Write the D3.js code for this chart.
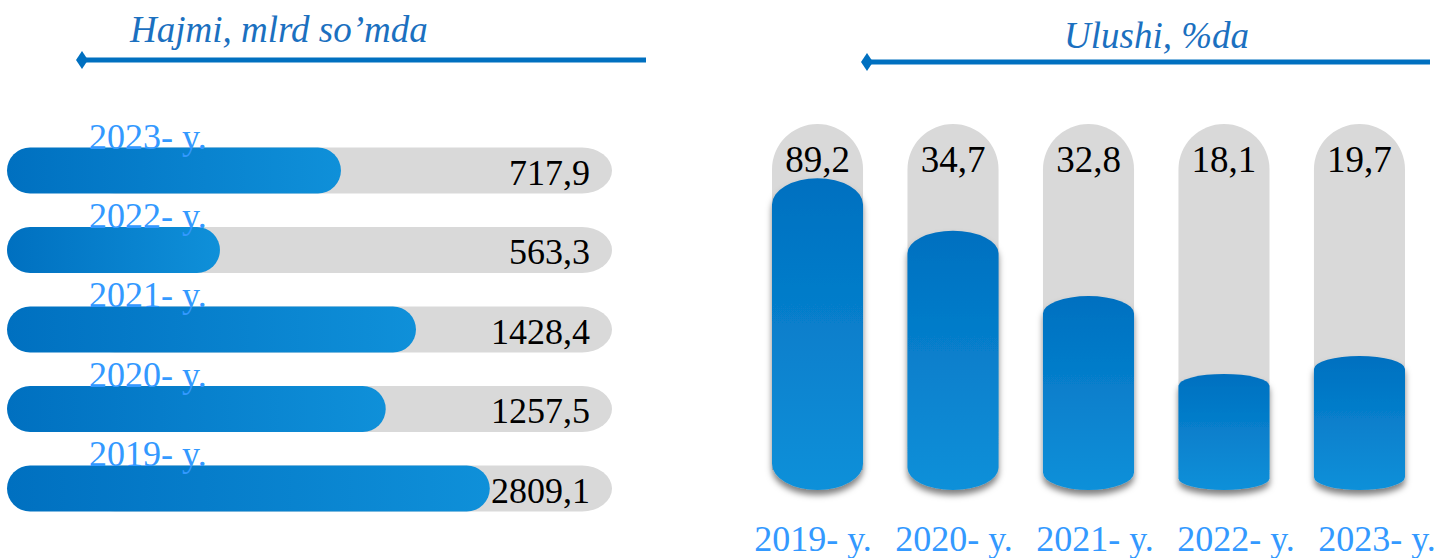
<!DOCTYPE html>
<html lang="uz">
<head>
    <meta charset="UTF-8">
    <script src="https://d3js.org/d3.v7.min.js"></script>
    <style>
        body { margin: 0; background: #fff; }
        svg { display: block; font-family: "Liberation Serif", "Times New Roman", serif; }
    </style>
</head>
<body>
<div id="chart_area"></div>

<script>
    // years, shown top-to-bottom on the left as 2023..2019, left-to-right on the right
    var years = ["2019", "2020", "2021", "2022", "2023"];
    // Hajmi, mlrd so'mda
    var volume = [2809.1, 1257.5, 1428.4, 563.3, 717.9];
    // Ulushi, %da
    var share = [89.2, 34.7, 32.8, 18.1, 19.7];
    // how far the blue fill reaches along its grey track (percent)
    var volumeFill = [79.8, 62.6, 67.6, 35.2, 55.2];
    var shareFill = [85.2, 70.8, 53.0, 31.7, 36.6];

    var width = 1453, height = 558;
    var blueDark = "#0070c0", blueLight = "#0f90d9", yearBlue = "#3399ff", grey = "#d9d9d9";

    var fmt = d3.formatLocale({ decimal: ",", thousands: "", grouping: [3], currency: ["", ""] }).format(".1f");

    var rows = years.map(function (y, i) {
        return { year: y, volume: volume[i], share: share[i], vFill: volumeFill[i], sFill: shareFill[i] };
    });

    var svg = d3.select("#chart_area").append("svg")
        .attr("width", width)
        .attr("height", height);

    var defs = svg.append("defs");
    var hGrad = defs.append("linearGradient").attr("id", "hGrad")
        .attr("x1", "0%").attr("x2", "100%").attr("y1", "0%").attr("y2", "0%");
    hGrad.append("stop").attr("offset", "0%").attr("stop-color", blueDark);
    hGrad.append("stop").attr("offset", "100%").attr("stop-color", blueLight);
    var vGrad = defs.append("linearGradient").attr("id", "vGrad")
        .attr("x1", "0%").attr("x2", "0%").attr("y1", "0%").attr("y2", "100%");
    vGrad.append("stop").attr("offset", "0%").attr("stop-color", blueDark);
    vGrad.append("stop").attr("offset", "100%").attr("stop-color", blueLight);
    defs.append("filter").attr("id", "shadow")
        .attr("x", "-20%").attr("y", "-10%").attr("width", "140%").attr("height", "130%")
        .append("feDropShadow")
        .attr("dx", 0).attr("dy", 5).attr("stdDeviation", 3)
        .attr("flood-color", "#000").attr("flood-opacity", 0.5);

    // ---- headers with diamond-tipped lines
    function header(text, tx, ty, x1, x2, ly) {
        svg.append("text")
            .attr("x", tx).attr("y", ty)
            .attr("font-size", 37).attr("font-style", "italic")
            .attr("fill", "#1b70c0")
            .text(text);
        svg.append("line")
            .attr("x1", x1).attr("x2", x2).attr("y1", ly).attr("y2", ly)
            .attr("stroke", blueDark).attr("stroke-width", 5);
        svg.append("path")
            .attr("d", "M" + (x1 - 6) + "," + ly + "L" + x1 + "," + (ly - 9) + "L" + (x1 + 6) + "," + ly + "L" + x1 + "," + (ly + 9) + "Z")
            .attr("fill", blueDark);
    }
    header("Hajmi, mlrd so\u2019mda", 130, 42, 82, 646, 60);
    header("Ulushi, %da", 1064, 48, 867, 1430, 62);

    // ---- left: horizontal pill bars
    var xL = d3.scaleLinear().domain([0, 100]).range([7, 612]);
    var yL = d3.scaleBand()
        .domain(years.slice().reverse())
        .range([147.5, 511.5])
        .paddingInner(0.42);
    var bh = yL.bandwidth();

    var left = svg.append("g");
    left.selectAll(".track").data(rows).enter().append("rect")
        .attr("class", "track")
        .attr("x", xL(0) + 78).attr("y", function (d) { return yL(d.year); })
        .attr("width", xL(100) - xL(0) - 78).attr("height", bh)
        .attr("rx", 30).attr("ry", bh / 2)
        .attr("fill", grey);
    left.selectAll(".fill").data(rows).enter().append("rect")
        .attr("class", "fill")
        .attr("x", xL(0)).attr("y", function (d) { return yL(d.year); })
        .attr("width", function (d) { return xL(d.vFill) - xL(0); })
        .attr("height", bh)
        .attr("rx", bh / 2).attr("ry", bh / 2)
        .attr("fill", "url(#hGrad)");
    left.selectAll(".year").data(rows).enter().append("text")
        .attr("class", "year")
        .attr("x", 89).attr("y", function (d) { return yL(d.year) + 1; })
        .attr("font-size", 36).attr("fill", yearBlue)
        .text(function (d) { return d.year + "- y."; });
    left.selectAll(".val").data(rows).enter().append("text")
        .attr("class", "val")
        .attr("x", 590).attr("y", function (d) { return yL(d.year) + bh - 9; })
        .attr("text-anchor", "end")
        .attr("font-size", 36).attr("fill", "#000")
        .text(function (d) { return fmt(d.volume); });

    // ---- right: vertical capsule columns
    var xR = d3.scaleBand().domain(years).range([772, 1405]).paddingInner(0.328);
    var xLabel = d3.scalePoint().domain(years).range([813, 1377]);
    var yR = d3.scaleLinear().domain([0, 100]).range([490, 124]);
    var cw = xR.bandwidth();

    var right = svg.append("g");
    right.selectAll(".ctrack").data(rows).enter().append("path")
        .attr("class", "ctrack")
        .attr("d", function (d) {
            var x0 = xR(d.year), r = cw / 2, top = yR(100);
            return "M" + x0 + "," + (top + r) +
                "A" + r + "," + r + " 0 0 1 " + (x0 + cw) + "," + (top + r) +
                "L" + (x0 + cw) + "," + (yR(0) - 20) +
                "L" + x0 + "," + (yR(0) - 20) + "Z";
        })
        .attr("fill", grey);
    right.selectAll(".cfill").data(rows).enter().append("path")
        .attr("class", "cfill")
        .attr("d", function (d) {
            var x0 = xR(d.year), rx = cw / 2;
            var yt = yR(d.sFill), yb = yR(0);
            var ry = (yb - yt) * 0.075 + 3;
            return "M" + x0 + "," + (yt + ry) +
                "A" + rx + "," + ry + " 0 0 1 " + (x0 + cw) + "," + (yt + ry) +
                "L" + (x0 + cw) + "," + (yb - ry) +
                "A" + rx + "," + ry + " 0 0 1 " + x0 + "," + (yb - ry) + "Z";
        })
        .attr("fill", "url(#vGrad)")
        .attr("filter", "url(#shadow)");
    right.selectAll(".cval").data(rows).enter().append("text")
        .attr("class", "cval")
        .attr("x", function (d) { return xR(d.year) + cw / 2; })
        .attr("y", 172)
        .attr("text-anchor", "middle")
        .attr("font-size", 37).attr("fill", "#000")
        .text(function (d) { return fmt(d.share); });
    right.selectAll(".cyear").data(rows).enter().append("text")
        .attr("class", "cyear")
        .attr("x", function (d) { return xLabel(d.year); })
        .attr("y", 551)
        .attr("text-anchor", "middle")
        .attr("font-size", 36).attr("fill", yearBlue)
        .text(function (d) { return d.year + "- y."; });
</script>
</body>
</html>
